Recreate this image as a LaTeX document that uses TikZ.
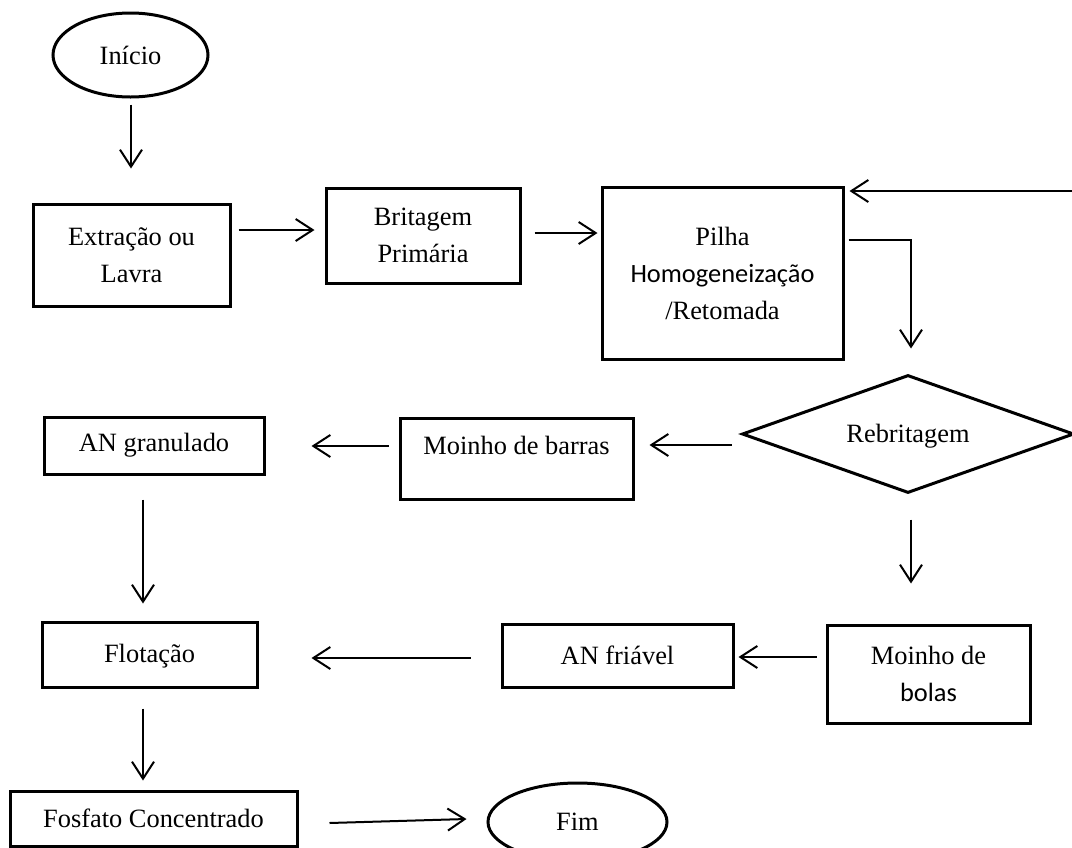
\documentclass[tikz,border=0pt]{standalone}
\usepackage{fontspec}
\setmainfont{Liberation Serif}
\newfontfamily\calfont{Carlito}
\usetikzlibrary{arrows.meta,shapes.geometric}
\tikzset{
  box/.style={draw, line width=3pt, rectangle, inner sep=0pt, align=center},
  oval/.style={draw, line width=3pt, ellipse, inner sep=0pt},
  arr/.style={line width=2pt, -{Straight Barb[length=17pt,width=22pt,line width=2pt]}},
}
\begin{document}
\begin{tikzpicture}[x=1pt,y=-1pt,font=\fontsize{26.4}{37}\selectfont]
\useasboundingbox (0,0) rectangle (1072,847);
\node[oval, minimum width=155, minimum height=84] (inicio) at (130.5,55) {Início};
\node[box, minimum width=197, minimum height=102] (extr) at (131.5,255) {Extração ou\\Lavra};
\node[box, minimum width=194, minimum height=95] (brit) at (423,235.5) {Britagem\\Primária};
\node[box, minimum width=241, minimum height=172] (pilha) at (722.5,273) {Pilha\\{\calfont Homogeneização}\\/Retomada};
\node[draw, line width=3pt, diamond, aspect=2.8, minimum width=332, minimum height=118, inner sep=0pt, text height=19pt, text depth=2pt] (dia) at (908,434) {Rebritagem};
\node[box, minimum width=233, minimum height=81, text height=19pt, text depth=28pt] (barras) at (516.5,458.5) {Moinho de barras};
\node[box, minimum width=220, minimum height=57] (gran) at (154,445.5) {AN granulado};
\node[box, minimum width=215, minimum height=65, text height=19pt, text depth=3pt] (flot) at (149.5,654.5) {Flotação};
\node[box, minimum width=231, minimum height=63] (fria) at (617.5,655.5) {AN friável};
\node[box, minimum width=203, minimum height=98] (bolas) at (928.5,674) {Moinho de\\{\calfont bolas}};
\node[box, minimum width=287, minimum height=55] (fosf) at (153.5,818.5) {Fosfato Concentrado};
\node[oval, minimum width=179, minimum height=78] (fim) at (577.5,822) {Fim};
\coordinate (fb) at (1074,191);

\draw[arr] ([shift={(0.5,6)}]inicio.south) -- ([shift={(-0.5,-34)}]extr.north);
\draw[arr] ([shift={(7,-25)}]extr.east) -- ([shift={(-10,-5.5)}]brit.west);
\draw[arr] ([shift={(13,-2.5)}]brit.east) -- ([shift={(-3,-40)}]pilha.west);
\draw[arr] (fb) -- ([shift={(5,5.5)}]pilha.north east);
\draw[arr] ([shift={(4,-33)}]pilha.east) -| ([shift={(3,-25)}]dia.north);
\draw[arr] ([shift={(-9,11)}]dia.west) -- ([shift={(15,-13.5)}]barras.east);
\draw[arr] ([shift={(-10,-12.5)}]barras.west) -- ([shift={(46,0.5)}]gran.east);
\draw[arr] ([shift={(-11,24)}]gran.south) -- ([shift={(-6.5,-17)}]flot.north);
\draw[arr] ([shift={(3,25)}]dia.south) -- ([shift={(-17.5,-40)}]bolas.north);
\draw[arr] ([shift={(-9,-17)}]bolas.west) -- ([shift={(4,1.5)}]fria.east);
\draw[arr] ([shift={(-30,2.5)}]fria.west) -- ([shift={(53,3.5)}]flot.east);
\draw[arr] ([shift={(-6.5,20)}]flot.south) -- ([shift={(-10.5,-9)}]fosf.north);
\draw[arr] ([shift={(31,4.5)}]fosf.east) -- ([shift={(-20,-3)}]fim.west);
\end{tikzpicture}
\end{document}
